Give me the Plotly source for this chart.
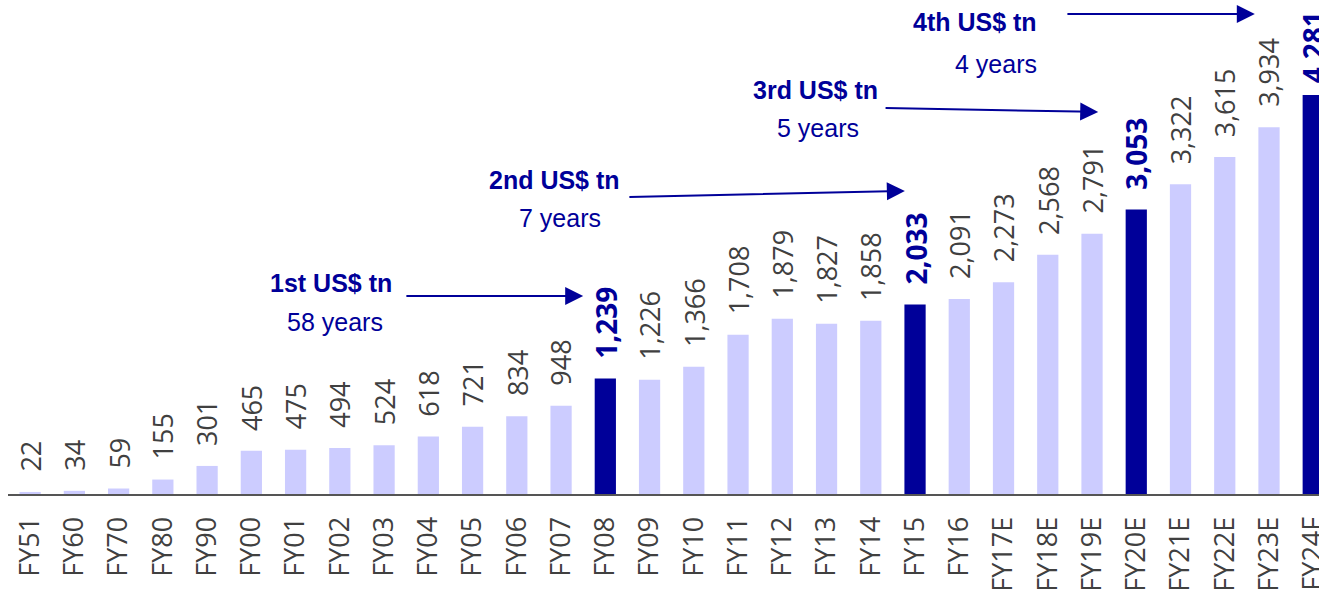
import plotly.graph_objects as go

categories = ["FY51", "FY60", "FY70", "FY80", "FY90", "FY00", "FY01", "FY02", "FY03", "FY04",
              "FY05", "FY06", "FY07", "FY08", "FY09", "FY10", "FY11", "FY12", "FY13", "FY14",
              "FY15", "FY16", "FY17E", "FY18E", "FY19E", "FY20E", "FY21E", "FY22E", "FY23E", "FY24F"]
values = [22, 34, 59, 155, 301, 465, 475, 494, 524, 618,
          721, 834, 948, 1239, 1226, 1366, 1708, 1879, 1827, 1858,
          2033, 2091, 2273, 2568, 2791, 3053, 3322, 3615, 3934, 4281]
milestones = ["FY08", "FY15", "FY20E", "FY24F"]

# milestone annotations: (title, duration)
milestone_titles = ["1st US$ tn", "2nd US$ tn", "3rd US$ tn", "4th US$ tn"]
milestone_years = ["58 years", "7 years", "5 years", "4 years"]

LIGHT = "#CCCCFF"
DARK = "#000099"
GREY = "#404040"

colors = [DARK if c in milestones else LIGHT for c in categories]
idx = list(range(len(categories)))

fig = go.Figure()
fig.add_trace(go.Bar(x=idx, y=values, marker=dict(color=colors, line=dict(width=0)),
                     width=0.48, hoverinfo="skip", showlegend=False))

annotations = []
for i, (c, v) in enumerate(zip(categories, values)):
    hi = c in milestones
    last = i == len(categories) - 1
    annotations.append(dict(
        x=i, y=v, xref="x", yref="y", text=f"<b>{v:,}</b>" if hi else f"{v:,}",
        showarrow=False, textangle=-90, xanchor="center", yanchor="bottom",
        yshift=10 if last else 18,
        font=dict(family="Open Sans", size=28 if hi else 27, color=DARK if hi else GREY)))

# text positions (data coordinates)
title_pos = [(6.80, 2264), (11.86, 3369), (17.74, 4335), (21.36, 5064)]
years_pos = [(6.89, 1845), (11.98, 2961), (17.81, 3927), (21.83, 4614)]
arrow_tail = [(8.47, 2124), (13.51, 3187), (19.30, 4142), (23.41, 5150)]
arrow_head = [(12.50, 2124), (19.77, 3251), (24.14, 4099), (27.68, 5150)]

for t, yr, tp, yp, at, ah in zip(milestone_titles, milestone_years, title_pos, years_pos, arrow_tail, arrow_head):
    annotations.append(dict(x=tp[0], y=tp[1], xref="x", yref="y", text=f"<b>{t}</b>", showarrow=False,
                            font=dict(family="Liberation Sans", size=25, color=DARK)))
    annotations.append(dict(x=yp[0], y=yp[1], xref="x", yref="y", text=yr, showarrow=False,
                            font=dict(family="Liberation Sans", size=25, color=DARK)))
    annotations.append(dict(x=ah[0], y=ah[1], ax=at[0], ay=at[1], xref="x", yref="y",
                            axref="x", ayref="y", text="", showarrow=True, arrowhead=2,
                            arrowsize=1.8, arrowwidth=2, arrowcolor=DARK, standoff=0, startstandoff=0))

fig.update_layout(
    template="none",
    width=1319, height=601,
    margin=dict(l=8, r=0, t=0, b=107, autoexpand=False),
    paper_bgcolor="white", plot_bgcolor="white",
    bargap=0.52,
    annotations=annotations,
    xaxis=dict(range=[-0.5, 29.13], tickmode="array", tickvals=idx, ticktext=categories,
               tickangle=-90, showline=True, linecolor="#555555", linewidth=2,
               showgrid=False, zeroline=False, ticks="", ticklabelstandoff=10, automargin=False,
               ticklabeloverflow="allow",
               tickfont=dict(family="Open Sans", size=27, color=GREY)),
    yaxis=dict(range=[0, 5300], visible=False, showgrid=False, zeroline=False, automargin=False),
)

fig.write_html("out.html", config={"displayModeBar": False},
               post_script="document.body.style.margin='0';document.body.style.overflow='hidden';")
